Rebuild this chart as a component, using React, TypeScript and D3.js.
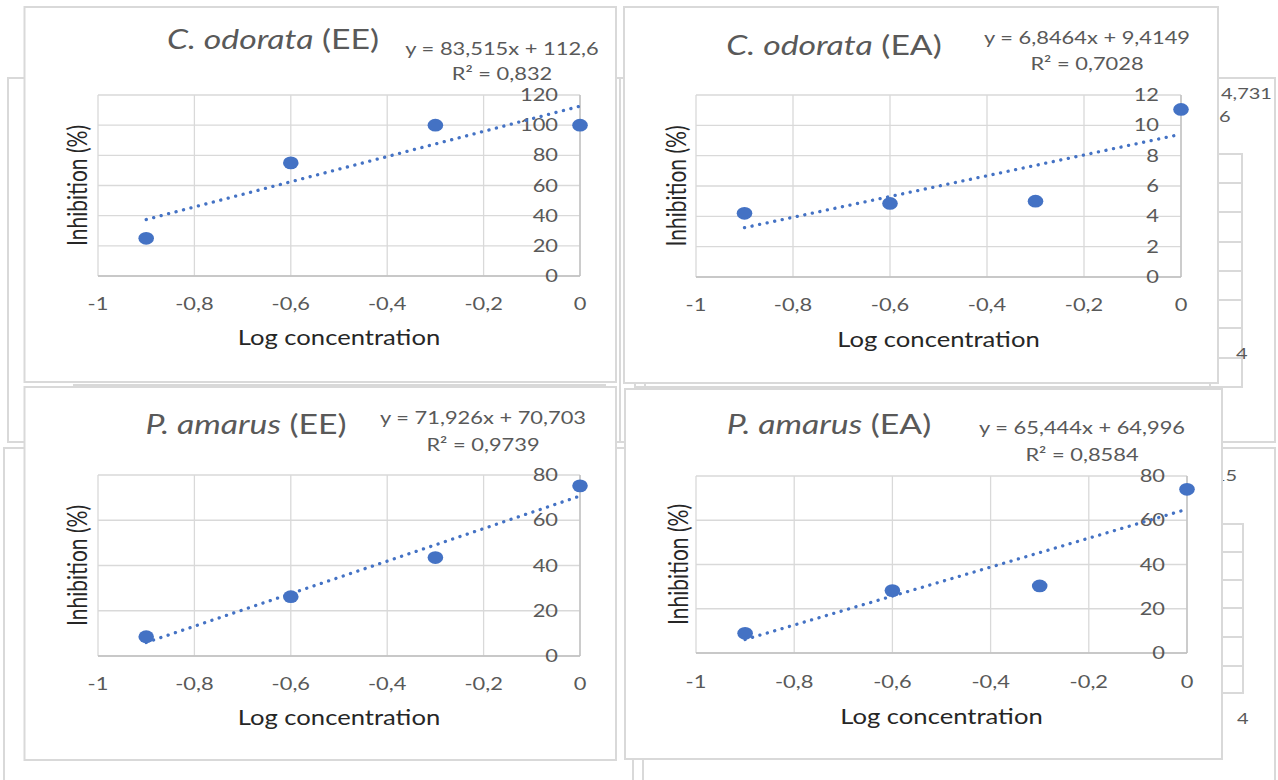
import React from "react";
import * as d3 from "d3";

// ---------- data ----------
const logConc = [-0.9, -0.6, -0.3, 0];
const coEE = [25, 75, 100, 100];
const coEA = [4.2, 4.85, 5.0, 11.05];
const paEE = [8.5, 26.2, 43.5, 75.2];
const paEA = [8.9, 28.2, 30.3, 74];
const slopes = [83.515, 6.8464, 71.926, 65.444];
const intercepts = [112.6, 9.4149, 70.703, 64.996];
const r2Values = [0.832, 0.7028, 0.9739, 0.8584];
const species = ["C. odorata", "C. odorata", "P. amarus", "P. amarus"];
const extracts = ["EE", "EA", "EE", "EA"];
const yMaxes = [120, 12, 80, 80];
const ySteps = [20, 2, 20, 20];
const xTicks = [-1, -0.8, -0.6, -0.4, -0.2, 0];
const xTitle = "Log concentration";
const yTitle = "Inhibition (%)";
const seriesList = [coEE, coEA, paEE, paEA];

// ---------- layout ----------
const layouts = [
  { frame: [24.5, 7, 616, 382], plot: [98, 95, 580, 276], titleX: 273, titleY: 40, eqX: 502, eqY: 49, r2Y: 74, xlabY: 304, xTitleY: 338, yTitleX: 78 },
  { frame: [624, 7, 1218, 383], plot: [696, 95, 1181, 277], titleX: 834, titleY: 46, eqX: 1087, eqY: 38, r2Y: 64, xlabY: 305, xTitleY: 340, yTitleX: 677 },
  { frame: [24.5, 387, 616, 760], plot: [98, 475, 580, 656], titleX: 246, titleY: 425, eqX: 483, eqY: 418, r2Y: 445, xlabY: 684, xTitleY: 718, yTitleX: 78 },
  { frame: [625, 389, 1222, 759], plot: [696, 476, 1187, 653], titleX: 829, titleY: 425, eqX: 1082, eqY: 428, r2Y: 455, xlabY: 682, xTitleY: 717, yTitleX: 679 },
];

const FONT = "Lato, 'Open Sans', sans-serif";
const GRID = "#d9d9d9";
const TXT = "#595959";
const DARK = "#262626";
const BLUE = "#4472C4";
const FRAME = "#d9d9d9";
const SX = 1.25; // the reference picture is stretched horizontally

const comma = (v: number) => String(+v.toFixed(4)).replace(".", ",");

function T({ x, y, anchor = "middle", size, fill = TXT, children, rotate = false }: any) {
  const tf = rotate
    ? `translate(${x},${y}) rotate(-90) scale(1,${SX})`
    : `translate(${x},${y}) scale(${SX},1)`;
  return (
    <text transform={tf} dy="0.35em" textAnchor={anchor} fontFamily={FONT} fontSize={size} fill={fill}>
      {children}
    </text>
  );
}

function Panel({ i }: { i: number }) {
  const L = layouts[i];
  const [px0, py0, px1, py1] = L.plot;
  const x = d3.scaleLinear().domain([-1, 0]).range([px0, px1]);
  const y = d3.scaleLinear().domain([0, yMaxes[i]]).range([py1, py0]);
  const yTicks = d3.range(0, yMaxes[i] + ySteps[i] / 2, ySteps[i]);
  const data = seriesList[i];
  const xs = [d3.min(logConc)!, d3.max(logConc)!];
  const line = d3
    .line<number>()
    .x((v) => x(v))
    .y((v) => y(slopes[i] * v + intercepts[i]));
  const [fx0, fy0, fx1, fy1] = L.frame;
  return (
    <g>
      <rect x={fx0} y={fy0} width={fx1 - fx0} height={fy1 - fy0} fill="#fff" stroke={FRAME} strokeWidth={2} />
      {yTicks.map((t) => (
        <line key={"gy" + t} x1={px0} x2={px1} y1={y(t)} y2={y(t)} stroke={GRID} strokeWidth={1.3} />
      ))}
      {xTicks.map((t) => (
        <line key={"gx" + t} x1={x(t)} x2={x(t)} y1={py0} y2={py1} stroke={GRID} strokeWidth={1.3} />
      ))}
      <line x1={px0} x2={px1} y1={y(0)} y2={y(0)} stroke="#bfbfbf" strokeWidth={1.3} />
      <line x1={x(0)} x2={x(0)} y1={py0} y2={py1} stroke="#bfbfbf" strokeWidth={1.3} />
      {yTicks.map((t) => (
        <T key={"ty" + t} x={x(0) - 22} y={y(t)} anchor="end" size={17.5}>
          {comma(t)}
        </T>
      ))}
      {xTicks.map((t) => (
        <T key={"tx" + t} x={x(t)} y={L.xlabY} size={17.5}>
          {comma(t)}
        </T>
      ))}
      <path
        d={line(xs) || ""}
        fill="none"
        stroke={BLUE}
        strokeWidth={3.3}
        strokeLinecap="round"
        strokeDasharray="0.1 7.6"
      />
      {data.map((v, k) => (
        <ellipse key={"p" + k} cx={x(logConc[k])} cy={y(v)} rx={7.8} ry={6.4} fill={BLUE} />
      ))}
      <T x={L.titleX} y={L.titleY} size={27}>
        <tspan fontStyle="italic">{species[i]}</tspan>
        <tspan> ({extracts[i]})</tspan>
      </T>
      <T x={L.eqX} y={L.eqY} size={17.5}>
        {`y = ${comma(slopes[i])}x + ${comma(intercepts[i])}`}
      </T>
      <T x={L.eqX} y={L.r2Y} size={17.5}>
        {`R² = ${comma(r2Values[i])}`}
      </T>
      <T x={(px0 + px1) / 2} y={L.xTitleY} size={20.5} fill={DARK}>
        {xTitle}
      </T>
      <T x={L.yTitleX} y={(py0 + py1) / 2} size={21} fill={DARK} rotate>
        {yTitle}
      </T>
    </g>
  );
}

function Background() {
  const topLines = [183, 212, 242, 271, 300, 328, 358];
  const botLines = [552, 580, 608, 637, 666];
  return (
    <g fill="none" stroke={FRAME} strokeWidth={2}>
      <rect x={8} y={78} width={612} height={364} />
      <rect x={620} y={78} width={655} height={364} />
      <rect x={4} y={448} width={629} height={345} />
      <rect x={643} y={448} width={632} height={345} />
      <rect x={1210} y={154} width={32} height={233} />
      {topLines.map((v) => (
        <line key={"tl" + v} x1={1210} x2={1242} y1={v} y2={v} />
      ))}
      <rect x={1210} y={524} width={33} height={169} />
      {botLines.map((v) => (
        <line key={"bl" + v} x1={1210} x2={1243} y1={v} y2={v} />
      ))}
      <line x1={73} x2={606} y1={385} y2={385} />
      <line x1={635} x2={1241} y1={387} y2={387} />
      <line x1={635} x2={635} y1={380} y2={392} />
      <line x1={645} x2={645} y1={380} y2={392} />
      <g stroke="none">
        <T x={1221} y={93} anchor="start" size={16}>4,731</T>
        <T x={1219} y={116} anchor="start" size={16}>6</T>
        <T x={1236} y={353} anchor="start" size={16}>4</T>
        <T x={1214} y={475} anchor="start" size={16}>15</T>
        <T x={1237} y={718} anchor="start" size={16}>4</T>
      </g>
    </g>
  );
}

export default function App() {
  return (
    <svg width={1278} height={780} style={{ position: "absolute", left: 0, top: 0, background: "#fff" }}>
      <rect width={1278} height={780} fill="#fff" />
      <Background />
      {[0, 1, 2, 3].map((i) => (
        <Panel key={i} i={i} />
      ))}
    </svg>
  );
}
